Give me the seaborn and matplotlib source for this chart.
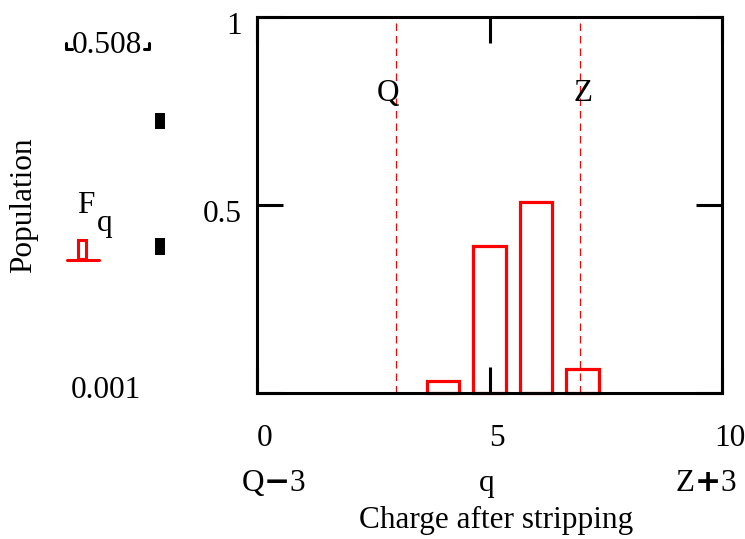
import matplotlib
matplotlib.use("Agg")
import matplotlib.pyplot as plt
import numpy as np
import pandas as pd
import seaborn as sns
from matplotlib.patches import Rectangle
from matplotlib.lines import Line2D
from matplotlib.transforms import Affine2D, ScaledTranslation

# ---- data ----
charges = [4, 5, 6, 7]
populations = [0.031, 0.390, 0.508, 0.063]
q_line = 2.98
z_line = 6.95
marker_labels = ["Q", "Z"]
marker_label_x = [2.82, 7.01]
xticks = [0, 5, 10]
xtick_labels = ["0", "5", "10"]
xsub_labels = [r"Q$\mathbf{-}$3", "q", r"Z$\mathbf{+}$3"]
xsub_px = [274, 487, 706]
yticks = [0, 0.5, 1]
ytick_labels = ["", "0.5", "1"]
legend_max = "0.508"
legend_min = "0.001"

sns.set_theme(style="white")
plt.rcParams["font.family"] = ["Liberation Serif", "DejaVu Serif"]
plt.rcParams["text.color"] = "black"
plt.rcParams["axes.labelcolor"] = "black"
plt.rcParams["mathtext.fontset"] = "dejavusans"
FS = 22.5

W, H = 745, 539
fig = plt.figure(figsize=(W / 100, H / 100), dpi=100)
pix = Affine2D().scale(1 / W, -1 / H).translate(0, 1) + fig.transFigure

L, R, T, B = 257, 722, 16.5, 393
ax = fig.add_axes([L / W, 1 - B / H, (R - L) / W, (B - T) / H])

df = pd.DataFrame({"charge": charges, "population": populations})
sns.barplot(data=df, x="charge", y="population", native_scale=True, width=0.7,
            fill=False, color="red", saturation=1, linewidth=2.3,
            errorbar=None, ax=ax)
for p in ax.patches:
    p.set_edgecolor("red")
    p.set_facecolor("none")
    p.set_linewidth(2.3)
    p.set_clip_on(False)

ax.axvline(q_line, color="red", lw=0.9, ls=(0, (6, 4)))
ax.axvline(z_line, color="red", lw=0.9, ls=(0, (6, 4)))

ax.set_xlim(0, 10)
ax.set_ylim(0, 1)
ax.set_xticks(xticks, labels=xtick_labels)
ax.set_yticks(yticks, labels=ytick_labels)
ax.tick_params(direction="in", length=19, width=2.2, top=True, right=True,
               bottom=True, left=True, colors="black", labelsize=FS)
ax.tick_params(axis="x", pad=22)
ax.tick_params(axis="y", pad=11)
for lab in ax.get_xticklabels():
    lab.set_transform(lab.get_transform() + ScaledTranslation(7.5 / 100, 0, fig.dpi_scale_trans))
for lab in ax.get_yticklabels():
    lab.set_transform(lab.get_transform() + ScaledTranslation(0, -6 / 100, fig.dpi_scale_trans))
for s in ax.spines.values():
    s.set_visible(True)
    s.set_color("black")
    s.set_linewidth(2.2)

ax.set_xlabel("Charge after stripping", fontsize=FS, color="black")
ax.xaxis.set_label_coords((496 - L) / (R - L), -(506 - B) / (B - T))
ax.set_ylabel("Population", fontsize=FS, color="black")
ax.yaxis.set_label_coords(-(L - 38) / (R - L), 0.5)

# labels for Q and Z lines
for lx, lt in zip(marker_label_x, marker_labels):
    ax.text(lx, (B - 101) / (B - T), lt, transform=ax.get_xaxis_transform(),
            ha="center", va="baseline", fontsize=FS, color="black")

# second row of x labels
for px_x, lt in zip(xsub_px, xsub_labels):
    fig.text(px_x, 491, lt, transform=pix, ha="center", va="baseline", fontsize=FS,
             color="black")

# left legend panel
fig.text(107, 53, legend_max, transform=pix, ha="center", va="baseline", fontsize=FS)
fig.text(106, 398, legend_min, transform=pix, ha="center", va="baseline", fontsize=FS)
fig.text(85.5, 213, "F", transform=pix, ha="center", va="baseline", fontsize=FS)
fig.text(105, 231, "q", transform=pix, ha="center", va="baseline", fontsize=FS)
fig.add_artist(Line2D([66, 66, 71.5], [43, 49, 49], transform=pix, color="black", lw=2.2))
fig.add_artist(Line2D([143.5, 149, 149], [49, 49, 43], transform=pix, color="black", lw=2.2))
fig.add_artist(Rectangle((155, 113), 10, 16, transform=pix, fc="black", ec="none"))
fig.add_artist(Rectangle((155, 238), 10, 17, transform=pix, fc="black", ec="none"))
fig.add_artist(Rectangle((78, 240), 8, 19, transform=pix, fill=False, ec="red", lw=2.2))
fig.add_artist(Line2D([67, 99], [259.5, 259.5], transform=pix, color="red", lw=2.2))

fig.savefig("out.png", dpi=100)
